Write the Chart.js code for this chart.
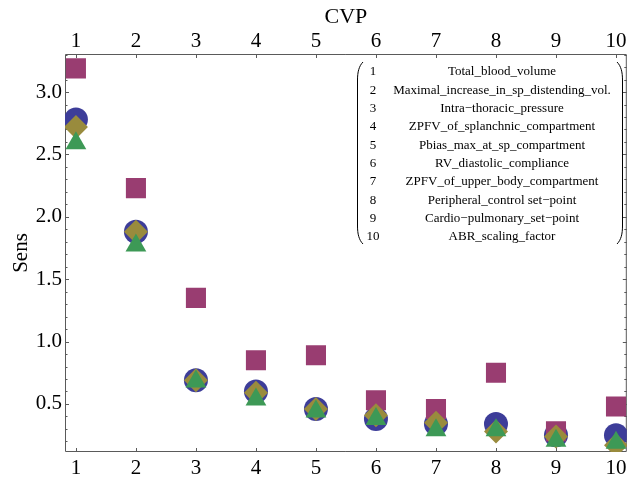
<!DOCTYPE html>
<html>
<head>
<meta charset="utf-8">
<title>CVP Sens</title>
<script src="https://cdn.jsdelivr.net/npm/chart.js@4.4.0/dist/chart.umd.min.js"></script>
<style>
  html, body { margin: 0; padding: 0; background: #fff; }
  #wrap { width: 641px; height: 477px; }
</style>
</head>
<body>
<div id="wrap"><canvas id="chart" width="641" height="477"></canvas></div>
<script>
// --- datos ---
const xVals = [1, 2, 3, 4, 5, 6, 7, 8, 9, 10];
const yTicks = [0.5, 1.0, 1.5, 2.0, 2.5, 3.0];

const circleVals   = [2.78, 1.88, 0.69, 0.60, 0.46, 0.38, 0.34, 0.34, 0.25, 0.25];
const squareVals   = [3.19, 2.23, 1.35, 0.85, 0.89, 0.53, 0.46, 0.75, 0.28, 0.48];
const diamondVals  = [2.72, 1.88, 0.69, 0.59, 0.46, 0.41, 0.35, 0.28, 0.24, 0.17];
const triangleVals = [2.59, 1.77, 0.68, 0.535, 0.44, 0.38, 0.29, 0.29, 0.205, 0.19];

const legendNames = [
  'Total_blood_volume',
  'Maximal_increase_in_sp_distending_vol.',
  'Intra\u2212thoracic_pressure',
  'ZPFV_of_splanchnic_compartment',
  'Pbias_max_at_sp_compartment',
  'RV_diastolic_compliance',
  'ZPFV_of_upper_body_compartment',
  'Peripheral_control set\u2212point',
  'Cardio\u2212pulmonary_set\u2212point',
  'ABR_scaling_factor'
];

const SERIF = "'Liberation Serif', 'DejaVu Serif', serif";
const FRAME = '#5a5a5a';

function pts(vals) {
  return xVals.map((x, i) => ({ x: x, y: vals[i] }));
}

// marco tipo Mathematica con marcas hacia adentro
const frameTicks = {
  id: 'frameTicks',
  beforeDatasetsDraw(chart) {
    const { ctx, chartArea: a, scales } = chart;
    ctx.save();
    ctx.strokeStyle = FRAME;
    ctx.lineWidth = 1;
    ctx.beginPath();
    ctx.rect(a.left + 0.5, a.top + 0.5, a.right - a.left - 1, a.bottom - a.top - 1);
    ctx.stroke();

    ctx.beginPath();
    xVals.forEach(v => {
      const px = Math.round(scales.x.getPixelForValue(v)) + 0.5;
      ctx.moveTo(px, a.bottom); ctx.lineTo(px, a.bottom - 4);
      ctx.moveTo(px, a.top); ctx.lineTo(px, a.top + 4);
    });
    for (let k = 2; k <= 33; k++) {
      const v = k / 10;
      const py = Math.round(scales.y.getPixelForValue(v)) + 0.5;
      if (py < a.top || py > a.bottom) continue;
      const len = (k % 5 === 0) ? 4 : 2.5;
      ctx.moveTo(a.left, py); ctx.lineTo(a.left + len, py);
      ctx.moveTo(a.right, py); ctx.lineTo(a.right - len, py);
    }
    ctx.stroke();
    ctx.restore();
  }
};

// leyenda numerada entre parentesis
const legendBox = {
  id: 'legendBox',
  afterDraw(chart) {
    const ctx = chart.ctx;
    const top = 72, step = 18.3;
    ctx.save();
    ctx.fillStyle = '#000';
    ctx.font = '13px ' + SERIF;
    ctx.textBaseline = 'middle';
    ctx.textAlign = 'center';
    legendNames.forEach((name, i) => {
      const y = top + i * step;
      ctx.fillText(String(i + 1), 373, y);
      ctx.fillText(name, 502, y);
    });
    // parentesis
    ctx.strokeStyle = '#000';
    ctx.lineWidth = 1;
    const y0 = 62, y1 = 244;
    ctx.beginPath();
    ctx.moveTo(363, y0);
    ctx.bezierCurveTo(359, y0 + 4, 357.5, y0 + 10, 357.5, y0 + 18);
    ctx.lineTo(357.5, y1 - 18);
    ctx.bezierCurveTo(357.5, y1 - 10, 359, y1 - 4, 363, y1);
    ctx.moveTo(617, y0);
    ctx.bezierCurveTo(621, y0 + 4, 622.5, y0 + 10, 622.5, y0 + 18);
    ctx.lineTo(622.5, y1 - 18);
    ctx.bezierCurveTo(622.5, y1 - 10, 621, y1 - 4, 617, y1);
    ctx.stroke();
    ctx.restore();
  }
};

const tickFont = { family: SERIF, size: 21 };

new Chart(document.getElementById('chart'), {
  type: 'scatter',
  data: {
    datasets: [
      { label: 'circle', data: pts(circleVals), pointStyle: 'circle', radius: 12,
        backgroundColor: '#3d3d99', borderWidth: 0, order: 4 },
      { label: 'square', data: pts(squareVals), pointStyle: 'rect', radius: 14.2,
        backgroundColor: '#993d71', borderWidth: 0, order: 3 },
      { label: 'diamond', data: pts(diamondVals), pointStyle: 'rectRot', radius: 12,
        backgroundColor: '#998b3d', borderWidth: 0, order: 2 },
      { label: 'triangle', data: pts(triangleVals), pointStyle: 'triangle', radius: 12,
        backgroundColor: '#3d9956', borderWidth: 0, order: 1 }
    ]
  },
  options: {
    responsive: false,
    animation: false,
    events: [],
    layout: { padding: { right: 9, top: 0, bottom: 0, left: 0 } },
    plugins: { legend: { display: false }, tooltip: { enabled: false } },
    scales: {
      x: {
        type: 'linear', position: 'bottom', min: 0.818, max: 10.18,
        afterBuildTicks: s => { s.ticks = xVals.map(v => ({ value: v })); },
        afterFit: s => { s.height = 25; },
        grid: { display: false, drawTicks: false },
        border: { display: false },
        ticks: { color: '#000', font: tickFont, padding: 4, maxRotation: 0, autoSkip: false }
      },
      x2: {
        type: 'linear', position: 'top', min: 0.818, max: 10.18,
        afterBuildTicks: s => { s.ticks = xVals.map(v => ({ value: v })); },
        afterFit: s => { s.height = 54; },
        grid: { display: false, drawTicks: false },
        border: { display: false },
        title: { display: true, text: 'CVP', color: '#000',
                 font: { family: SERIF, size: 22 }, padding: { top: 4, bottom: 0 } },
        ticks: { color: '#000', font: tickFont, padding: 0, maxRotation: 0, autoSkip: false }
      },
      y: {
        type: 'linear', position: 'left', min: 0.115, max: 3.305,
        afterBuildTicks: s => { s.ticks = yTicks.map(v => ({ value: v })); },
        afterFit: s => { s.width = 65; },
        grid: { display: false, drawTicks: false },
        border: { display: false },
        title: { display: true, text: 'Sens', color: '#000',
                 font: { family: SERIF, size: 21 }, padding: { top: 9, bottom: 0 } },
        ticks: { color: '#000', font: tickFont, padding: 3,
                 callback: v => v.toFixed(1) }
      }
    }
  },
  plugins: [frameTicks, legendBox]
});
</script>
</body>
</html>
